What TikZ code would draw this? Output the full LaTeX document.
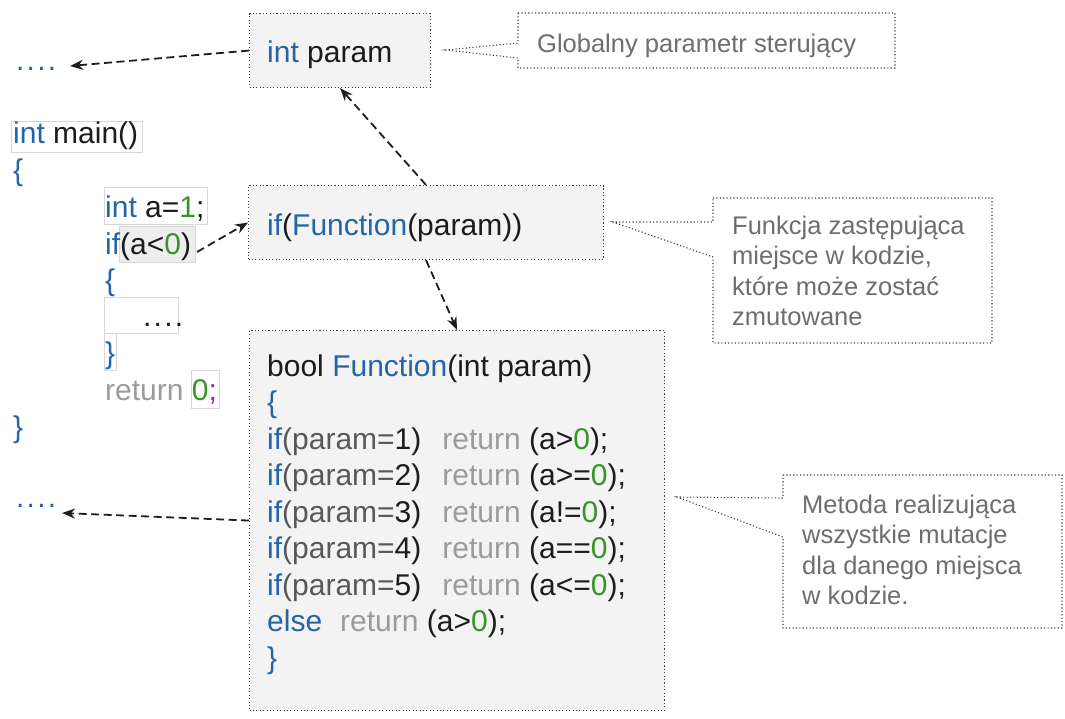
\documentclass[tikz,border=0pt]{standalone}
\usepackage{fontspec}
\setmainfont{Liberation Sans}
\usetikzlibrary{arrows.meta}
\definecolor{kwc}{RGB}{38,100,168}
\definecolor{numc}{RGB}{56,148,40}
\definecolor{retc}{RGB}{155,155,155}
\definecolor{txtc}{RGB}{28,28,28}
\definecolor{parc}{RGB}{88,88,88}
\definecolor{notec}{RGB}{110,110,110}
\definecolor{boxfill}{RGB}{243,243,243}
\definecolor{boxline}{RGB}{60,60,60}
\definecolor{faintc}{RGB}{215,215,215}
\definecolor{semic}{RGB}{160,40,170}
\definecolor{arrowc}{RGB}{30,30,30}
\definecolor{hlfill}{RGB}{238,238,238}
\newcommand\cKw[1]{\textcolor{kwc}{#1}}
\newcommand\cNum[1]{\textcolor{numc}{#1}}
\newcommand\cRet[1]{\textcolor{retc}{#1}}
\newcommand\cPar[1]{\textcolor{parc}{#1}}
\newcommand\cDots{.\kern2.2pt.\kern2.2pt.\kern2.2pt.}
\tikzset{
  code/.style={font=\fontsize{30}{36}\selectfont, text=txtc, inner sep=0pt, anchor=base west},
  notetext/.style={font=\fontsize{25.5}{29}\selectfont, text=notec, inner sep=0pt, anchor=base west},
  codebox/.style={draw=boxline, line width=1.1pt, dash pattern=on 1.1pt off 2.3pt, fill=boxfill, inner sep=0pt, anchor=north west},
  notebox/.style={draw=boxline, line width=1.1pt, dash pattern=on 1.1pt off 2.3pt, fill=white},
  faintbox/.style={draw=faintc, line width=0.8pt, fill=white},
  link/.style={draw=arrowc, line width=1.8pt, dash pattern=on 8pt off 4.5pt, -{Stealth[length=13pt,width=10pt]}}
}
\begin{document}
\begin{tikzpicture}[x=1pt,y=-1pt]
\useasboundingbox (0,0) rectangle (1065,718);

% faint boxes on the left code
\draw[faintbox] (11,121) rectangle (142,152);
\draw[faintbox] (104,187) rectangle (207,224);
\draw[faintbox, fill=hlfill] (119,226) rectangle (195,262);
\draw[faintbox] (104,297) rectangle (178,333);
\draw[faintbox] (104,333) rectangle (116,370);
\draw[faintbox] (191,370) rectangle (219,408);

% left code
\node[code, text=kwc] (dotsA) at (16,70) {\cDots};
\node[code] (lmain) at (13,143) {\cKw{int} main()};
\node[code] (lob1) at (13,180) {\cKw{\{}};
\node[code] (la) at (105,217) {\cKw{int} a=\cNum{1};};
\node[code] (lif) at (105,254) {\cKw{if}(a<\cNum{0})};
\node[code] (lob2) at (105,290) {\cKw{\{}};
\node[code] (dotsB) at (143,326) {\cDots};
\node[code] (lcb2) at (105,363) {\cKw{\}}};
\node[code] (lret) at (105,400) {\cRet{return} \cNum{0}\textcolor{semic}{;}};
\node[code] (lcb1) at (13,437) {\cKw{\}}};
\node[code, text=kwc] (dotsC) at (16,507) {\cDots};

% code boxes
\node[codebox, minimum width=181pt, minimum height=74pt] (param) at (249,13) {};
\node[code] (paramtxt) at (267,62) {\cKw{int} param};
\node[codebox, minimum width=355pt, minimum height=74pt] (fn) at (248,185) {};
\node[code] (fntxt) at (267,235) {\cKw{if}(\cKw{Function}(param))};
\node[codebox, minimum width=415pt, minimum height=380pt] (body) at (249,330) {};
\node[code] (b0) at (267,376) {bool \cKw{Function}(int param)};
\node[code] (b1) at (267,412.5) {\cKw{\{}};
\node[code] (b2) at (267,449) {\cKw{if}\cPar{(param=}1)\hspace{21pt}\cRet{return} (a>\cNum{0});};
\node[code] (b3) at (267,485.5) {\cKw{if}\cPar{(param=}2)\hspace{21pt}\cRet{return} (a>=\cNum{0});};
\node[code] (b4) at (267,522) {\cKw{if}\cPar{(param=}3)\hspace{21pt}\cRet{return} (a!=\cNum{0});};
\node[code] (b5) at (267,558.5) {\cKw{if}\cPar{(param=}4)\hspace{21pt}\cRet{return} (a==\cNum{0});};
\node[code] (b6) at (267,595) {\cKw{if}\cPar{(param=}5)\hspace{21pt}\cRet{return} (a<=\cNum{0});};
\node[code] (b7) at (267,631.5) {\cKw{else}\hspace{18pt}\cRet{return} (a>\cNum{0});};
\node[code] (b8) at (267,668) {\cKw{\}}};

% callouts
\draw[notebox] (518,13) -- (895,13) -- (895,68) -- (518,68) -- (518,58) -- (446,50) -- (518,43) -- cycle;
\node[notetext] (n1) at (537,52) {Globalny parametr sterujący};

\draw[notebox] (713,198) -- (992,198) -- (992,343) -- (713,343) -- (713,257) -- (613,222) -- (713,222) -- cycle;
\node[notetext] (n2a) at (732,234) {Funkcja zastępująca};
\node[notetext] (n2b) at (732,264.5) {miejsce w kodzie,};
\node[notetext] (n2c) at (732,295) {które może zostać};
\node[notetext] (n2d) at (732,325.5) {zmutowane};

\draw[notebox] (783,475) -- (1062,475) -- (1062,628) -- (783,628) -- (783,537) -- (677,497) -- (783,498) -- cycle;
\node[notetext] (n3a) at (802,513) {Metoda realizująca};
\node[notetext] (n3b) at (802,543.5) {wszystkie mutacje};
\node[notetext] (n3c) at (802,574) {dla danego miejsca};
\node[notetext] (n3d) at (802,604.5) {w kodzie.};

% connectors
\coordinate (tA) at (70,66);
\coordinate (tC) at (62,513);
\coordinate (sIf) at (197,252);
\draw[link] (param.west) -- (tA);
\draw[link] (body.west) -- (tC);
\draw[link] (sIf) -- (fn.west);
\draw[link] (fn.north) -- (param.south);
\draw[link] (fn.south) -- (body.north);
\end{tikzpicture}
\end{document}
